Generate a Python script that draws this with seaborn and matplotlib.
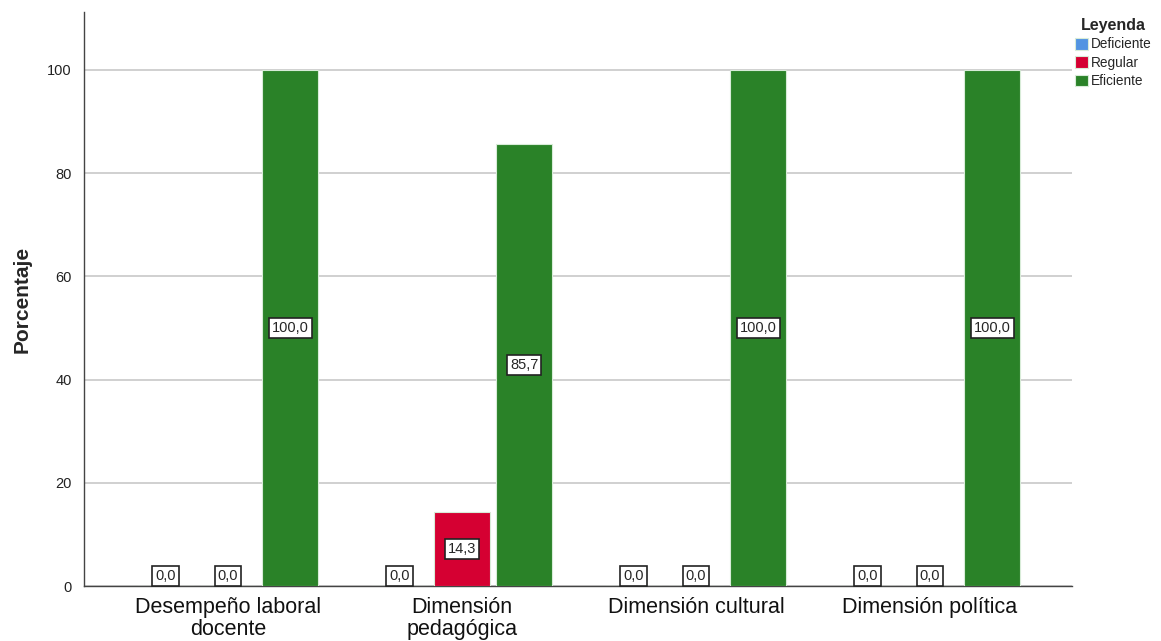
import matplotlib
matplotlib.use("Agg")
import matplotlib.pyplot as plt
import seaborn as sns
import pandas as pd

categorias = ["Desempeño laboral\ndocente", "Dimensión\npedagógica",
              "Dimensión cultural", "Dimensión política"]
niveles = ["Deficiente", "Regular", "Eficiente"]
deficiente = [0.0, 0.0, 0.0, 0.0]
regular = [0.0, 14.3, 0.0, 0.0]
eficiente = [100.0, 85.7, 100.0, 100.0]
colores = ["#5294E2", "#D50032", "#2A8228"]

filas = []
for nivel, valores in zip(niveles, [deficiente, regular, eficiente]):
    for cat, v in zip(categorias, valores):
        filas.append({"Categoria": cat, "Nivel": nivel, "Porcentaje": v})
df = pd.DataFrame(filas)

sns.set_style("white")
plt.rcParams["font.family"] = ["Liberation Sans", "DejaVu Sans"]

fig = plt.figure(figsize=(11.61, 6.41), dpi=100)
ax = fig.add_axes([0.0724, 0.0858, 0.8509, 0.8955])

sns.barplot(data=df, x="Categoria", y="Porcentaje", hue="Nivel",
            order=categorias, hue_order=niveles, palette=colores,
            width=0.8, gap=0.1, edgecolor="#d8ecd8", linewidth=0.8,
            saturation=1, ax=ax, zorder=3)

ax.set_ylim(0, 111.2)
ax.set_xlim(-0.615, 3.607)
ax.set_yticks([0, 20, 40, 60, 80, 100])
ax.yaxis.grid(True, color="#c8c8c8", linewidth=1.2, zorder=0)
ax.set_axisbelow(True)
for s in ["top", "right"]:
    ax.spines[s].set_visible(False)
for s in ["left", "bottom"]:
    ax.spines[s].set_color("#444444")
    ax.spines[s].set_linewidth(1.0)
ax.tick_params(axis="y", labelsize=10.5, length=0, pad=9, colors="#222222")
ax.tick_params(axis="x", labelsize=15.5, length=0, pad=8, colors="#111111")
for t in ax.get_xticklabels():
    t.set_linespacing(1.05)
ax.set_xlabel("")
ax.set_ylabel("Porcentaje", fontsize=15, fontweight="bold", labelpad=11)

# value labels in white boxes
for cont in ax.containers:
    for barra in cont:
        v = barra.get_height()
        xc = barra.get_x() + barra.get_width() / 2
        texto = f"{v:.1f}".replace(".", ",")
        if v == 0:
            y, va = 0.6, "bottom"
        else:
            y, va = v / 2, "center"
        ax.text(xc, y, texto, ha="center", va=va, fontsize=10.5, zorder=5,
                bbox=dict(boxstyle="square,pad=0.2", facecolor="white",
                          edgecolor="#222222", linewidth=1.2))

leg = ax.legend(title="Leyenda", loc="upper left", bbox_to_anchor=(0.998, 0.999),
                frameon=False, fontsize=9.8, handlelength=0.95, handleheight=0.95,
                handletextpad=0.2, labelspacing=0.32, borderaxespad=0.0)
leg.get_title().set_fontweight("bold")
leg.get_title().set_fontsize(11.5)

fig.savefig("out.png", dpi=100)
